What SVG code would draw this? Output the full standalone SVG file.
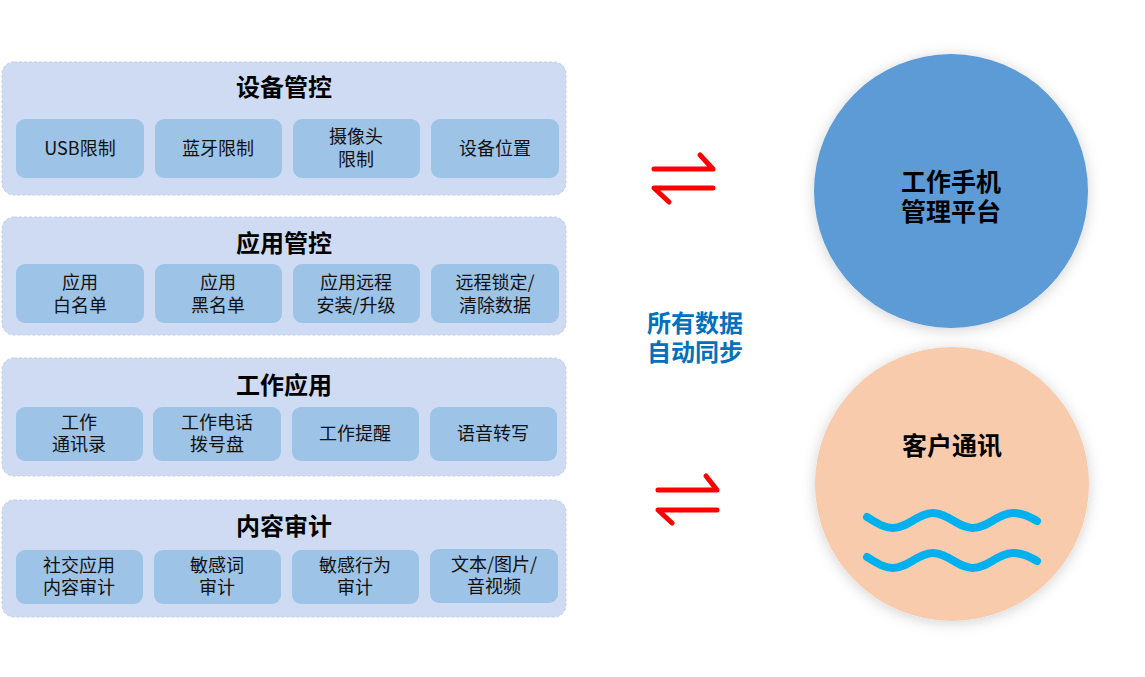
<svg xmlns="http://www.w3.org/2000/svg" width="1145" height="677" viewBox="0 0 1145 677">
<defs>
<style>
.panel{fill:#cfdbf2;stroke:#c3d0ea;stroke-width:1;stroke-dasharray:3 2}
.box{fill:#9dc3e6}
.title{font-family:"Noto Sans CJK SC","Noto Sans",sans-serif;font-size:24px;font-weight:bold;fill:#000;text-anchor:middle}
.lbl{font-family:"Noto Sans CJK SC","Noto Sans",sans-serif;font-size:18px;fill:#111;text-anchor:middle}
.ctext{font-family:"Noto Sans CJK SC","Noto Sans",sans-serif;font-size:25px;font-weight:bold;fill:#000;text-anchor:middle}
.sync{font-family:"Noto Sans CJK SC","Noto Sans",sans-serif;font-size:24px;font-weight:bold;fill:#0070c0;text-anchor:middle}
.arr{fill:none;stroke:#ff0000;stroke-width:5;stroke-linecap:round;stroke-linejoin:round}
.wave{fill:none;stroke:#00b0f0;stroke-width:8;stroke-linecap:round}
</style>
<filter id="sh" x="-20%" y="-20%" width="140%" height="140%">
<feDropShadow dx="0" dy="2" stdDeviation="7" flood-color="#000" flood-opacity="0.18"/>
</filter>
</defs>

<g id="panel-device">
<rect class="panel" x="2" y="62" width="564" height="133" rx="12"/>
<text class="title" x="284" y="96">设备管控</text>
<rect class="box" x="16" y="119" width="128" height="59" rx="9"/>
<text class="lbl" x="80" y="155">USB限制</text>
<rect class="box" x="155" y="119" width="127" height="59" rx="9"/>
<text class="lbl" x="218" y="155">蓝牙限制</text>
<rect class="box" x="293" y="119" width="127" height="59" rx="9"/>
<text class="lbl" x="356" y="143">摄像头<tspan x="356" dy="23">限制</tspan></text>
<rect class="box" x="431" y="119" width="128" height="59" rx="9"/>
<text class="lbl" x="495" y="155">设备位置</text>
</g>

<g id="panel-app">
<rect class="panel" x="2" y="217" width="564" height="118" rx="12"/>
<text class="title" x="284" y="252">应用管控</text>
<rect class="box" x="16" y="264" width="128" height="59" rx="9"/>
<text class="lbl" x="80" y="289">应用<tspan x="80" dy="23">白名单</tspan></text>
<rect class="box" x="155" y="264" width="127" height="59" rx="9"/>
<text class="lbl" x="218" y="289">应用<tspan x="218" dy="23">黑名单</tspan></text>
<rect class="box" x="293" y="264" width="127" height="59" rx="9"/>
<text class="lbl" x="356" y="289">应用远程<tspan x="356" dy="23">安装/升级</tspan></text>
<rect class="box" x="431" y="264" width="128" height="59" rx="9"/>
<text class="lbl" x="495" y="289">远程锁定/<tspan x="495" dy="23">清除数据</tspan></text>
</g>

<g id="panel-work">
<rect class="panel" x="2" y="358" width="564" height="118" rx="12"/>
<text class="title" x="284" y="394">工作应用</text>
<rect class="box" x="16" y="407" width="127" height="54" rx="9"/>
<text class="lbl" x="79" y="429">工作<tspan x="79" dy="22">通讯录</tspan></text>
<rect class="box" x="153" y="407" width="128" height="54" rx="9"/>
<text class="lbl" x="217" y="429">工作电话<tspan x="217" dy="22">拨号盘</tspan></text>
<rect class="box" x="292" y="407" width="127" height="54" rx="9"/>
<text class="lbl" x="355" y="440">工作提醒</text>
<rect class="box" x="430" y="407" width="127" height="54" rx="9"/>
<text class="lbl" x="493" y="440">语音转写</text>
</g>

<g id="panel-audit">
<rect class="panel" x="2" y="500" width="564" height="117" rx="12"/>
<text class="title" x="284" y="535">内容审计</text>
<rect class="box" x="16" y="550" width="127" height="54" rx="9"/>
<text class="lbl" x="79" y="572">社交应用<tspan x="79" dy="22">内容审计</tspan></text>
<rect class="box" x="154" y="550" width="127" height="54" rx="9"/>
<text class="lbl" x="217" y="572">敏感词<tspan x="217" dy="22">审计</tspan></text>
<rect class="box" x="292" y="550" width="127" height="54" rx="9"/>
<text class="lbl" x="355" y="572">敏感行为<tspan x="355" dy="22">审计</tspan></text>
<rect class="box" x="430" y="549" width="128" height="54" rx="9"/>
<text class="lbl" x="494" y="571">文本/图片/<tspan x="494" dy="22">音视频</tspan></text>
</g>

<g id="platform">
<circle cx="951" cy="191" r="137" fill="#5b9bd5" filter="url(#sh)"/>
<text class="ctext" x="951" y="191">工作手机<tspan x="951" dy="30">管理平台</tspan></text>
</g>

<g id="customer">
<circle cx="952" cy="484" r="137" fill="#f8cbad" filter="url(#sh)"/>
<text class="ctext" x="952" y="455">客户通讯</text>
<path class="wave" d="M867,517 C877,523 884,528 893,528 C908,528 918,513 933,513 C948,513 958,528 973,528 C988,528 998,513 1013,513 C1023,513 1030,517 1037,521"/>
<path class="wave" d="M867,557 C877,563 884,568 893,568 C908,568 918,553 933,553 C948,553 958,568 973,568 C988,568 998,553 1013,553 C1023,553 1030,557 1037,561"/>
</g>

<g id="sync-label">
<text class="sync" x="695" y="332">所有数据<tspan x="695" dy="29">自动同步</tspan></text>
</g>

<g id="connectors">
<path class="arr" d="M654,169 L713,169 L700,155"/>
<path class="arr" d="M713,188 L654,188 L669,202"/>
<path class="arr" d="M658,490 L717,490 L706,476"/>
<path class="arr" d="M717,510 L658,510 L672,523"/>
</g>
</svg>
